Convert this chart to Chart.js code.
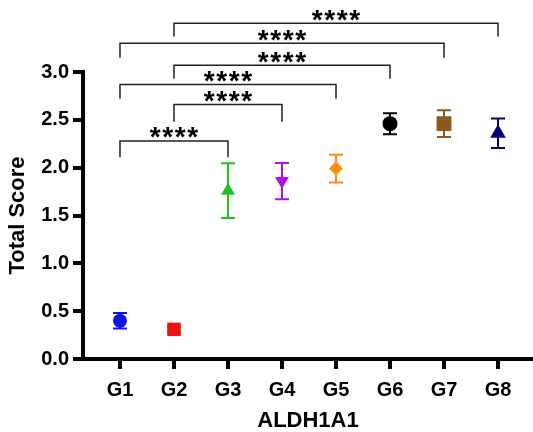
<!DOCTYPE html>
<html>
<head>
<meta charset="utf-8">
<script src="https://cdn.jsdelivr.net/npm/chart.js@4"></script>
<style>
  body { margin: 0; background: #fff; }
</style>
</head>
<body>
<canvas id="scoreChart" width="533" height="432"></canvas>
<script>
// group means and SD
const groups = ['G1', 'G2', 'G3', 'G4', 'G5', 'G6', 'G7', 'G8'];
const means = [0.40, 0.31, 1.76, 1.86, 1.99, 2.46, 2.46, 2.36];
const sds = [0.08, 0.03, 0.285, 0.19, 0.145, 0.11, 0.14, 0.155];
const yTicks = [0, 0.5, 1.0, 1.5, 2.0, 2.5, 3.0];

// significance brackets (group index 1-based, heights in score units)
const bracketFrom = [1, 2, 1, 2, 1, 2];
const bracketTo = [3, 4, 5, 6, 7, 8];
const bracketY = [2.28, 2.66, 2.87, 3.07, 3.30, 3.51];
const bracketTip = [2.11, 2.48, 2.72, 2.93, 3.15, 3.37];
const bracketText = ['****', '****', '****', '****', '****', '****'];

const colors = ['#1010f0', '#f01010', '#20c020', '#b010e0', '#ff8c10', '#000000', '#8c5a1e', '#00007a'];
const styles = ['circle', 'rect', 'triangle', 'triangle', 'rectRot', 'circle', 'rect', 'triangle'];
const rotations = [0, 0, 0, 180, 0, 0, 0, 0];
const radii = [7, 9.5, 8, 8, 7, 7.5, 10.5, 9];

const font = "'Liberation Sans', Arial, sans-serif";

const extras = {
    id: 'extras',
    beforeDatasetsDraw(chart) {
        const ctx = chart.ctx;
        const xs = chart.scales.x;
        const ys = chart.scales.y;
        ctx.save();
        ctx.lineWidth = 2;
        means.forEach((m, i) => {
            const x = xs.getPixelForValue(i + 1);
            const top = ys.getPixelForValue(m + sds[i]);
            const bot = ys.getPixelForValue(m - sds[i]);
            ctx.strokeStyle = colors[i];
            ctx.beginPath();
            ctx.moveTo(x, top); ctx.lineTo(x, bot);
            ctx.moveTo(x - 7, top); ctx.lineTo(x + 7, top);
            ctx.moveTo(x - 7, bot); ctx.lineTo(x + 7, bot);
            ctx.stroke();
        });
        ctx.restore();
    },
    afterDatasetsDraw(chart) {
        const ctx = chart.ctx;
        const xs = chart.scales.x;
        const ys = chart.scales.y;
        ctx.save();
        ctx.strokeStyle = '#222';
        ctx.lineWidth = 1.5;
        ctx.fillStyle = '#000';
        ctx.font = 'bold 28px ' + font;
        ctx.textAlign = 'center';
        ctx.textBaseline = 'alphabetic';
        bracketFrom.forEach((a, i) => {
            const x1 = xs.getPixelForValue(a);
            const x2 = xs.getPixelForValue(bracketTo[i]);
            const y = ys.getPixelForValue(bracketY[i]);
            const tip = ys.getPixelForValue(bracketTip[i]);
            ctx.beginPath();
            ctx.moveTo(x1, tip); ctx.lineTo(x1, y); ctx.lineTo(x2, y); ctx.lineTo(x2, tip);
            ctx.stroke();
            // stars, one glyph at a time to get the wide spacing
            const txt = bracketText[i];
            const mid = (x1 + x2) / 2;
            const pitch = 12.5;
            const mt = ctx.measureText('*');
            const cy = y - 8;
            const base = cy + (mt.actualBoundingBoxAscent - mt.actualBoundingBoxDescent) / 2;
            for (let k = 0; k < txt.length; k++) {
                ctx.fillText(txt[k], mid + (k - (txt.length - 1) / 2) * pitch, base);
            }
        });
        ctx.restore();
    }
};

new Chart(document.getElementById('scoreChart'), {
    type: 'scatter',
    data: {
        datasets: [{
            data: means.map((m, i) => ({ x: i + 1, y: m })),
            pointStyle: styles,
            pointRotation: rotations,
            pointRadius: radii,
            backgroundColor: colors,
            borderColor: colors,
            borderWidth: 0,
            clip: false
        }]
    },
    options: {
        responsive: false,
        animation: false,
        layout: { autoPadding: false, padding: { top: 72, left: 0, right: 0, bottom: 0 } },
        plugins: { legend: { display: false }, tooltip: { enabled: false } },
        scales: {
            x: {
                type: 'linear',
                min: 0.315,
                max: 8.648,
                afterBuildTicks: (axis) => { axis.ticks = groups.map((g, i) => ({ value: i + 1 })); },
                afterFit: (scale) => { scale.height = 73; scale.paddingLeft = 0; scale.paddingRight = 0; },
                ticks: {
                    color: '#000',
                    padding: 9,
                    font: { family: font, size: 20, weight: 'bold' },
                    callback: (v) => groups[v - 1]
                },
                grid: { drawOnChartArea: false, drawTicks: true, tickLength: 10, color: '#000', lineWidth: 4 },
                border: { color: '#000', width: 4 },
                title: {
                    display: true,
                    text: 'ALDH1A1',
                    color: '#000',
                    font: { family: font, size: 22, weight: 'bold', lineHeight: 1.0 },
                    padding: { top: 0, bottom: 0 }
                }
            },
            y: {
                min: 0,
                max: 3.0,
                afterBuildTicks: (axis) => { axis.ticks = yTicks.map(v => ({ value: v })); },
                afterFit: (scale) => { scale.width = 83; scale.paddingTop = 0; scale.paddingBottom = 0; },
                ticks: {
                    color: '#000',
                    padding: 4,
                    font: { family: font, size: 20, weight: 'bold' },
                    callback: (v) => v.toFixed(1)
                },
                grid: { drawOnChartArea: false, drawTicks: true, tickLength: 10, color: '#000', lineWidth: 4 },
                border: { color: '#000', width: 4 },
                title: {
                    display: true,
                    text: 'Total Score',
                    color: '#000',
                    font: { family: font, size: 22, weight: 'bold' },
                    padding: { top: 5, bottom: 0 }
                }
            }
        }
    },
    plugins: [extras]
});
</script>
</body>
</html>
